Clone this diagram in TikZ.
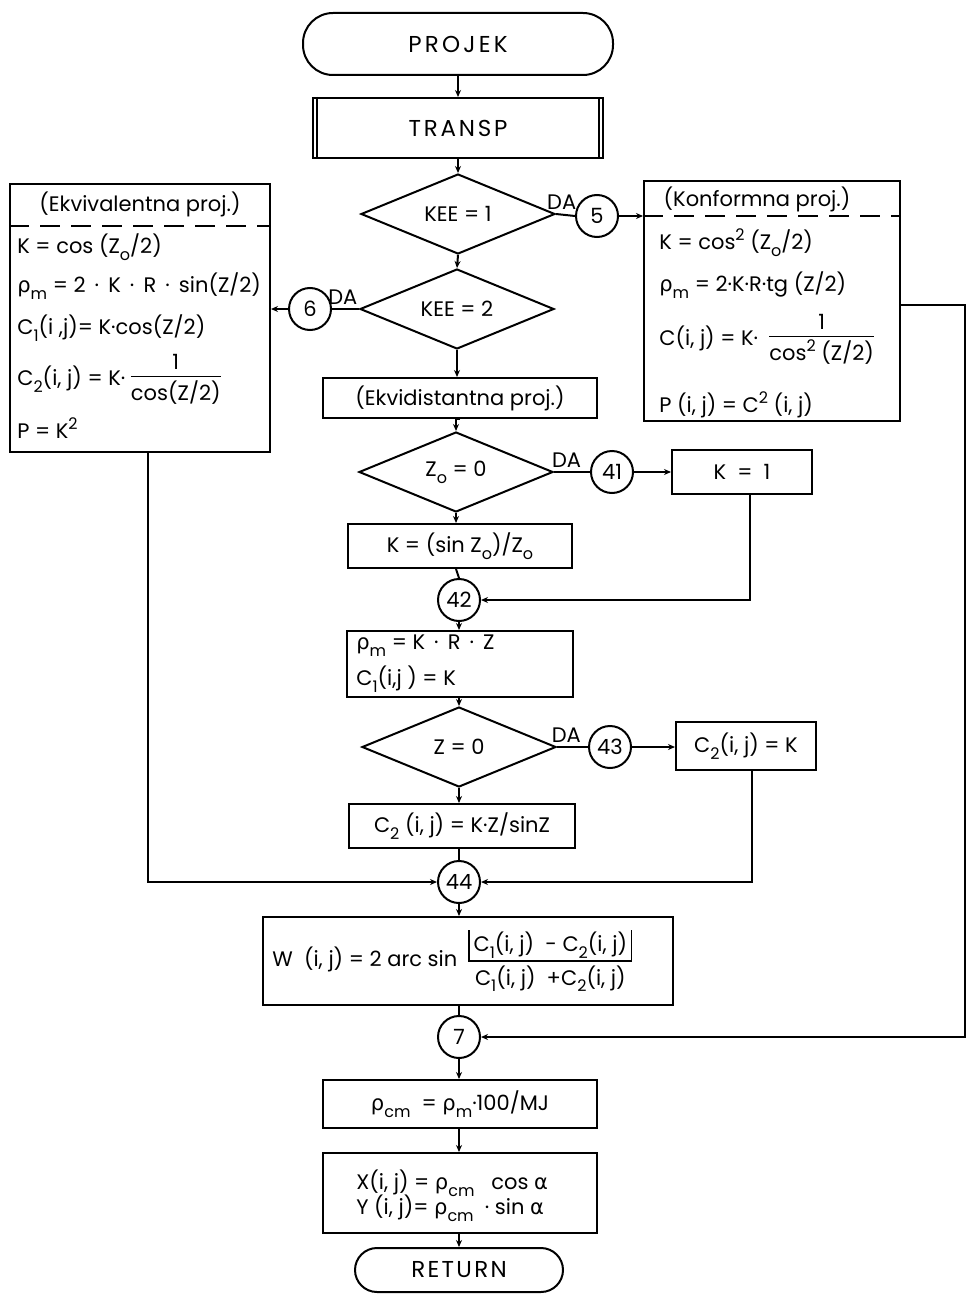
\documentclass[tikz,border=0pt]{standalone}
\usepackage{fontspec}
\setmainfont{Poppins}
\newfontfamily\grk{DejaVu Sans}
\usetikzlibrary{shapes.geometric,arrows.meta,calc}
\newcommand\lo[1]{\raisebox{-0.6ex}{\fontsize{16}{16}\selectfont #1}}
\newcommand\hi[1]{\raisebox{0.8ex}{\fontsize{16}{16}\selectfont #1}}
\newcommand\rh{{\grk ρ}}
\newcommand\al{{\grk α}}
\setlength\arrayrulewidth{1.6pt}
\newcommand\fr[2]{\begin{tabular}[c]{@{}c@{}}#1\\[-1pt]\hline\rule{0pt}{1.1em}#2\end{tabular}}
\newcommand\vbar{\rule[-0.45em]{1.6pt}{1.5em}}
\begin{document}
\begin{tikzpicture}[x=1pt,y=-1pt,line width=2pt,
  every node/.style={font=\fontsize{21}{24}\selectfont},
  box/.style={draw,rectangle,inner sep=0pt},
  term/.style={draw,rectangle,rounded corners=22pt,inner sep=0pt},
  dia/.style={draw,diamond,shape aspect=2.4,inner sep=0pt,minimum width=194pt,minimum height=80pt},
  circ/.style={draw,circle,inner sep=0pt,minimum size=42pt},
  arr/.style={-{Stealth[length=7pt,width=6pt]}},
  dsh/.style={dash pattern=on 20pt off 11pt},
  big/.style={font=\fontsize{23}{26}\selectfont},
  lbl/.style={above=3pt,inner sep=1pt}]
\useasboundingbox (0,0) rectangle (972,1295);
\fill[white] (0,0) rectangle (972,1295);
% main column
\node[term,big,rounded corners=30pt,minimum width=310pt,minimum height=62pt] (projek) at (458,44) {\addfontfeature{LetterSpace=14}PROJEK};
\node[box,big,minimum width=290pt,minimum height=60pt] (transp) at (458,128) {\addfontfeature{LetterSpace=12}TRANSP};
\draw ($(transp.north west)+(5,0)$) -- ($(transp.south west)+(5,0)$);
\draw ($(transp.north east)+(-5,0)$) -- ($(transp.south east)+(-5,0)$);
\node[dia] (kee1) at (458,214) {KEE = 1};
\node[circ] (c5) at (597,216) {5};
\node[dia] (kee2) at (457,309) {KEE = 2};
\node[circ] (c6) at (310,309) {6};
\node[box,minimum width=274pt,minimum height=40pt] (ekvid) at (460,398) {(Ekvidistantna proj.)};
\node[dia] (zo) at (456,472) {Z\lo{o} = 0};
\node[circ] (c41) at (612,472) {41};
\node[box,minimum width=140pt,minimum height=44pt] (k1) at (742,472) {K \ = \ 1};
\node[box,minimum width=224pt,minimum height=44pt] (ksin) at (460,546) {K = (sin Z\lo{o})/Z\lo{o}};
\node[circ] (c42) at (459,600) {42};
\node[box,minimum width=226pt,minimum height=66pt] (rho) at (460,664) {};
\node[anchor=west] (rho1) at (352,646) {\rh\lo{m} = K \,·\, R \,·\, Z};
\node[anchor=west] (rho2) at (352,679) {C\lo{1}(i,j ) = K};
\node[dia] (z0) at (459,747) {Z = 0};
\node[circ] (c43) at (610,747) {43};
\node[box,minimum width=140pt,minimum height=48pt] (c2k) at (746,746) {C\lo{2}(i, j) = K};
\node[box,minimum width=226pt,minimum height=44pt] (c2s) at (462,826) {C\lo{2} (i, j) = K·Z/sinZ};
\node[circ] (c44) at (459,882) {44};
\node[box,minimum width=410pt,minimum height=88pt] (w) at (468,961) {};
\node[anchor=west] (wt) at (268,961) {W \ (i, j) = 2 arc sin \ \fr{\vbar\,C\lo{1}(i, j) \ - C\lo{2}(i, j)\,\vbar}{C\lo{1}(i, j) \ +C\lo{2}(i, j)}};
\node[circ] (c7) at (459,1037) {7};
\node[box,minimum width=274pt,minimum height=48pt] (rcm) at (460,1104) {\rh\lo{cm} \ = \rh\lo{m}·100/MJ};
\node[box,minimum width=274pt,minimum height=80pt] (xy) at (460,1193) {};
\node[anchor=west] (xy1) at (352,1183) {X(i, j) = \rh\lo{cm} \ \ cos \al};
\node[anchor=west] (xy2) at (352,1208) {Y (i, j)= \rh\lo{cm} \ · sin \al};
\node[term,big,minimum width=208pt,minimum height=44pt] (ret) at (459,1270) {\addfontfeature{LetterSpace=10}RETURN};
% left box
\node[box,minimum width=260pt,minimum height=268pt] (ekviv) at (140,318) {};
\node (ekh) at (140,204) {(Ekvivalentna proj.)};
\draw[dsh] (ekviv.west |- 0,226) -- (ekviv.east |- 0,226);
\node[anchor=west] (ek1) at (13,247) {K = cos (Z\lo{o}/2)};
\node[anchor=west] (ek2) at (13,286) {\rh\lo{m} = 2 \,·\, K \,·\, R \,·\, sin(Z/2)};
\node[anchor=west] (ek3) at (13,328) {C\lo{1}(i ,j)= K·cos(Z/2)};
\node[anchor=west] (ek4) at (13,380) {C\lo{2}(i, j) = K· \fr{1}{cos(Z/2)}};
\node[anchor=west] (ek5) at (13,428) {P = K\hi{2}};
% right box
\node[box,minimum width=256pt,minimum height=240pt] (konf) at (772,301) {};
\node (koh) at (757,199) {(Konformna proj.)};
\draw[dsh] (konf.west |- 0,216) -- (konf.east |- 0,216);
\node[anchor=west] (ko1) at (655,243) {K = cos\hi{2} (Z\lo{o}/2)};
\node[anchor=west] (ko2) at (655,285) {\rh\lo{m} = 2·K·R·tg (Z/2)};
\node[anchor=west] (ko3) at (655,340) {C(i, j) = K· \ \fr{1}{cos\hi{2} (Z/2)}};
\node[anchor=west] (ko4) at (655,405) {P (i, j) = C\hi{2} (i, j)};
% connectors
\draw[arr] (projek.south) -- (projek.south |- transp.north);
\draw[arr] (transp.south) -- (transp.south |- kee1.north);
\draw (kee1.east) -- node[lbl,pos=0.3] {DA} (c5.west);
\draw[arr] (c5.east) -- (konf.west |- c5);
\draw[arr] (kee1.south) -- (kee2.north);
\draw (kee2.west) -- node[lbl,pos=0.6] {DA} (c6.east);
\draw[arr] (c6.west) -- (ekviv.east |- c6);
\draw[arr] (kee2.south) -- (kee2.south |- ekvid.north);
\draw[arr] (ekvid.south) -- (ekvid.south -| zo.north) -- (zo.north);
\draw (zo.east) -- node[lbl,pos=0.35] {DA} (c41.west);
\draw[arr] (c41.east) -- (k1.west |- c41);
\draw[arr] (zo.south) -- (zo.south |- ksin.north);
\draw (zo.south |- ksin.south) -- (c42.north);
\coordinate (k1d) at ($(k1.south)+(8,0)$);
\draw[arr] (k1d) |- (c42.east);
\draw[arr] (c42.south) -- (c42.south |- rho.north);
\draw[arr] (c42.south |- rho.south) -- (z0.north);
\draw (z0.east) -- node[lbl,pos=0.3] {DA} (c43.west);
\draw[arr] (c43.east) -- (c2k.west |- c43);
\draw[arr] (z0.south) -- (z0.south |- c2s.north);
\draw (z0.south |- c2s.south) -- (c44.north);
\coordinate (c2d) at ($(c2k.south)+(6,0)$);
\draw[arr] (c2d) |- (c44.east);
\coordinate (ekd) at ($(ekviv.south)+(8,0)$);
\draw[arr] (ekd) |- (c44.west);
\draw[arr] (c44.south) -- (c44.south |- w.north);
\draw (c7.north |- w.south) -- (c7.north);
\coordinate (fb) at (965,305);
\draw[arr] (konf.east |- fb) -- (fb) |- (c7.east);
\draw[arr] (c7.south) -- (c7.south |- rcm.north);
\draw[arr] (c7.south |- rcm.south) -- (c7.south |- xy.north);
\draw[arr] (c7.south |- xy.south) -- (c7.south |- ret.north);
\end{tikzpicture}
\end{document}
